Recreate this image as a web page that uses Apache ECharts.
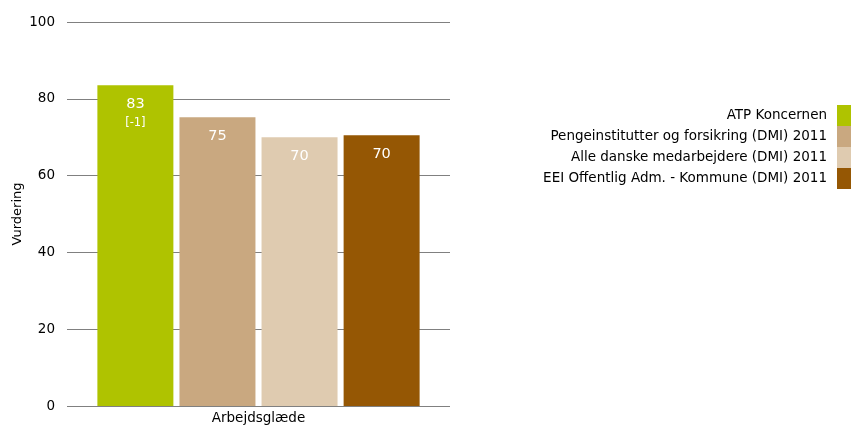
<!DOCTYPE html>
<html><head><meta charset="utf-8">
<script src="https://cdn.jsdelivr.net/npm/echarts@6/dist/echarts.min.js"></script>
<style>html,body{margin:0;padding:0;background:#fff}#c{width:851px;height:426px}</style>
</head><body><div id="c"></div>
<script>
const categories = ['Arbejdsglæde'];
const seriesNames = ['ATP Koncernen','Pengeinstitutter og forsikring (DMI) 2011','Alle danske medarbejdere (DMI) 2011','EEI Offentlig Adm. - Kommune (DMI) 2011'];
const seriesValues = [83.5, 75.2, 70.0, 70.5];
const valueLabels = ['83','75','70','70'];
const changeLabels = ['[-1]','','',''];
const colors = ['#AFC300','#C9A880','#DFCBB0','#955704'];
const yTicks = [0,20,40,60,80,100];

const font = 'DejaVu Sans, Verdana, sans-serif';
const chart = echarts.init(document.getElementById('c'));
const series = seriesNames.map((n,i)=>({
  name:n, type:'bar', data:[seriesValues[i]], barWidth:76, barGap:'8%',
  itemStyle:{color:colors[i]},
  label:{show:true, position:'insideTop', distance:9,
    formatter:()=> changeLabels[i] ? '{a|'+valueLabels[i]+'}\n{b|'+changeLabels[i]+'}' : '{a|'+valueLabels[i]+'}',
    rich:{a:{color:'#fff',fontSize:14.5,fontFamily:font,lineHeight:20},b:{color:'#fff',fontSize:11.5,fontFamily:font,lineHeight:18}}}
}));
chart.setOption({
  animation:false,
  grid:{left:67,right:401,top:22,bottom:20,containLabel:false},
  legend:{orient:'vertical', right:0, top:105, padding:0, align:'right', itemWidth:14, itemHeight:21, itemGap:0,
    icon:'rect', textStyle:{fontFamily:font,fontSize:13.5,color:'#000',padding:[0,5,0,0]}, data:seriesNames},
  xAxis:{type:'category', data:categories, axisTick:{show:false},
    axisLine:{show:false},
    axisLabel:{fontFamily:font,fontSize:13.5,color:'#000',margin:5}},
  yAxis:{type:'value', min:0, max:100, interval:20, name:'Vurdering', nameLocation:'middle', nameGap:43,
    nameTextStyle:{fontFamily:font,fontSize:13,color:'#000'},
    axisLine:{show:false}, axisTick:{show:false},
    axisLabel:{fontFamily:font,fontSize:13.5,color:'#000',margin:12, formatter:v=>yTicks.includes(v)?String(v):''},
    splitLine:{lineStyle:{color:'#808080',width:1}}},
  series
});
</script></body></html>
